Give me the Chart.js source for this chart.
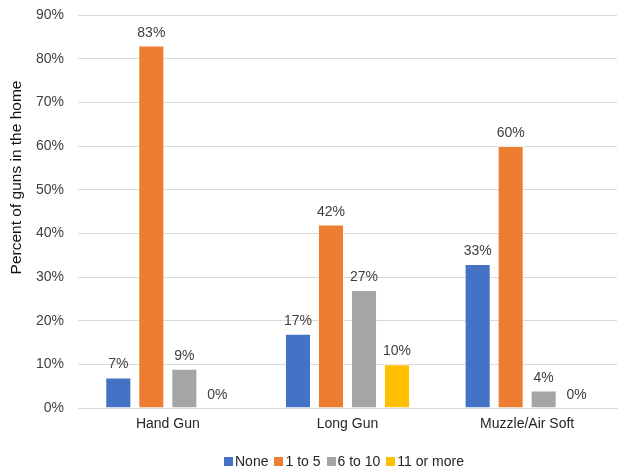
<!DOCTYPE html>
<html>
<head>
<meta charset="utf-8">
<script src="https://cdn.jsdelivr.net/npm/chart.js@4/dist/chart.umd.min.js"></script>
<style>
  html, body { margin: 0; padding: 0; background: #fff; }
  #wrap { width: 622px; height: 467px; position: relative; }
  #legend {
    position: absolute; left: 224px; top: 453px;
    display: flex; align-items: center;
    font: 14px 'Liberation Sans', Arial, sans-serif; color: #262626;
    white-space: nowrap; line-height: 16px;
  }
  #legend .item { display: flex; align-items: center; margin-right: 6px; }
  #legend .box { width: 9px; height: 9px; margin-right: 2px; }
</style>
</head>
<body>
<div id="wrap">
  <canvas id="c"></canvas>
  <div id="legend"></div>
</div>
<script>
const categories = ['Hand Gun', 'Long Gun', 'Muzzle/Air Soft'];
const seriesNames = ['None', '1 to 5', '6 to 10', '11 or more'];
const noneValues = [7, 17, 33];
const oneToFiveValues = [83, 42, 60];
const sixToTenValues = [9, 27, 4];
const elevenPlusValues = [0, 10, 0];
const yTicks = [0, 10, 20, 30, 40, 50, 60, 70, 80, 90];
const yTitle = 'Percent of guns in the home';

const colors = ['#4472C4', '#ED7D31', '#A5A5A5', '#FFC000'];
const allValues = [noneValues, oneToFiveValues, sixToTenValues, elevenPlusValues];
const FONT = "'Liberation Sans', Arial, sans-serif";

// Percentage labels above each bar
const valueLabels = {
  id: 'valueLabels',
  afterDatasetsDraw(chart) {
    const ctx = chart.ctx;
    ctx.save();
    ctx.font = '14px ' + FONT;
    ctx.fillStyle = '#404040';
    ctx.textAlign = 'center';
    ctx.textBaseline = 'alphabetic';
    chart.data.datasets.forEach((ds, i) => {
      const meta = chart.getDatasetMeta(i);
      meta.data.forEach((bar, j) => {
        ctx.fillText(ds.data[j] + '%', bar.x, bar.y - 9);
      });
    });
    ctx.restore();
  }
};

// Rotated value-axis title, sitting a little above the middle of the axis
const axisTitle = {
  id: 'axisTitle',
  afterDraw(chart) {
    const ctx = chart.ctx;
    const a = chart.chartArea;
    ctx.save();
    ctx.translate(17, (a.top + a.bottom) / 2 - 34);
    ctx.rotate(-Math.PI / 2);
    ctx.font = '15.5px ' + FONT;
    ctx.fillStyle = '#111';
    ctx.textAlign = 'center';
    ctx.textBaseline = 'middle';
    ctx.fillText(yTitle, 0, 0);
    ctx.restore();
  }
};

const chart = new Chart(document.getElementById('c'), {
  type: 'bar',
  data: {
    labels: categories,
    datasets: seriesNames.map((name, i) => ({
      label: name,
      data: allValues[i],
      backgroundColor: colors[i],
      borderColor: 'rgba(255,255,255,0.55)',
      borderWidth: 1,
      categoryPercentage: 0.735,
      barPercentage: 0.79
    }))
  },
  options: {
    responsive: true,
    maintainAspectRatio: false,
    animation: false,
    layout: { padding: { left: 0, right: 5, top: 15, bottom: 0 } },
    plugins: {
      legend: { display: false },
      tooltip: { enabled: false }
    },
    scales: {
      x: {
        grid: { display: false, drawTicks: false },
        border: { color: '#D9D9D9', width: 1 },
        ticks: { font: { size: 14, family: FONT }, color: '#262626', padding: 8 },
        afterFit(axis) { axis.height = 59; }
      },
      y: {
        min: 0,
        max: 90,
        afterBuildTicks(axis) { axis.ticks = yTicks.map(v => ({ value: v })); },
        afterFit(axis) {
          axis.width = 78;
          axis.paddingTop = 0;
          axis.paddingBottom = 0;
        },
        grid: { color: '#D9D9D9', drawTicks: false },
        border: { display: false },
        ticks: {
          font: { size: 14, family: FONT },
          color: '#404040',
          padding: 14,
          callback: v => v + '%'
        }
      }
    }
  },
  plugins: [valueLabels, axisTitle]
});

// Series key under the plot
const legendEl = document.getElementById('legend');
seriesNames.forEach((name, i) => {
  const item = document.createElement('span');
  item.className = 'item';
  const box = document.createElement('span');
  box.className = 'box';
  box.style.background = colors[i];
  const txt = document.createElement('span');
  txt.textContent = name;
  item.appendChild(box);
  item.appendChild(txt);
  legendEl.appendChild(item);
});
</script>
</body>
</html>
